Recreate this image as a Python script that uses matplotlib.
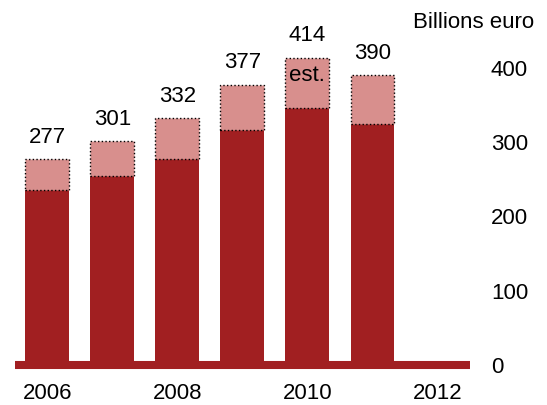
import matplotlib
matplotlib.use("Agg")
import matplotlib.pyplot as plt

plt.rcParams['font.family'] = ['Liberation Sans', 'DejaVu Sans']

# Annual totals (billions euro) and the base component of each bar
years = [2006, 2007, 2008, 2009, 2010, 2011]
base_values = [235, 255, 278, 316, 346, 325]
totals = [277, 301, 332, 377, 414, 390]
tick_years = [2006, 2008, 2010, 2012]
y_ticks = [0, 100, 200, 300, 400]
estimate_year = 2010

dark_red = '#a11f21'
light_red = '#d88f8d'

fig = plt.figure(figsize=(5.47, 4.05), dpi=100)
ax = fig.add_axes([0.0269, 0.0988, 0.8324, 0.8067])

upper = [t - b for t, b in zip(totals, base_values)]
ax.bar(years, base_values, width=0.675, color=dark_red, linewidth=0, zorder=2)
ax.bar(years, upper, bottom=base_values, width=0.675, color=light_red,
       edgecolor='black', linestyle=':', linewidth=1.0, zorder=2)

# Thick baseline along zero
ax.axhline(0, color=dark_red, linewidth=5.8, clip_on=False, zorder=3,
           solid_capstyle='butt')

for x, t in zip(years, totals):
    ax.annotate(str(t), (x, t), xytext=(0, 16), textcoords='offset points',
                ha='center', va='center', fontsize=16)

est_total = totals[years.index(estimate_year)]
ax.annotate('est.', (estimate_year, est_total), xytext=(0, -13),
            textcoords='offset points', ha='center', va='center', fontsize=16)

ax.set_xlim(2005.5, 2012.5)
ax.set_ylim(0, 440)
ax.set_xticks(tick_years)
ax.set_xticklabels([str(y) for y in tick_years])
ax.set_yticks(y_ticks)
ax.yaxis.tick_right()
ax.tick_params(axis='y', length=0, pad=15, labelsize=16)
ax.tick_params(axis='x', length=0, pad=13, labelsize=16)
for lbl in ax.get_yticklabels():
    lbl.set_horizontalalignment('left')

for s in ax.spines.values():
    s.set_visible(False)

fig.text(413 / 547, 1 - 23 / 405, 'Billions euro', ha='left', va='center', fontsize=16)

fig.savefig('out.png', dpi=100)
